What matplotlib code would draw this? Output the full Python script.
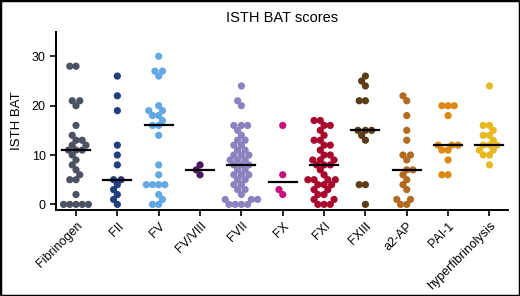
import numpy as np
import matplotlib
matplotlib.use('Agg')
import matplotlib.pyplot as plt
from matplotlib.patches import Rectangle

plt.rcParams['font.family'] = ['Liberation Sans', 'DejaVu Sans']

#groups and their ISTH BAT scores
categories = ['Fibrinogen', 'FII', 'FV', 'FV/VIII', 'FVII', 'FX', 'FXI', 'FXIII',
              'a2-AP', 'PAI-1', 'hyperfibrinolysis']
fibrinogen = [0, 0, 0, 0, 0, 2, 5, 5, 6, 7, 8, 9, 10, 11, 11, 11, 12, 12, 13, 13, 14,
              16, 20, 21, 21, 28, 28]
f2 = [26, 22, 19, 12, 10, 8, 5, 5, 4, 3, 2, 1, 0]
f5 = [30, 27, 27, 26, 20, 19, 19, 18, 18, 17, 16, 16, 14, 8, 6, 4, 4, 4, 4, 2, 1, 0, 0]
f5_8 = [8, 7, 6]
f7 = [24, 21, 20, 16, 16, 16, 15, 14, 13, 13, 12, 12, 11, 11, 10, 10, 10, 9, 9, 9, 8, 8,
      8, 7, 7, 6, 6, 6, 5, 5, 4, 4, 3, 3, 2, 1, 1, 1, 0, 0, 0, 0]
f10 = [16, 6, 3, 2]
f11 = [17, 17, 16, 16, 15, 14, 13, 13, 12, 12, 11, 10, 10, 9, 9, 9, 8, 8, 8, 7, 6, 5, 5,
       5, 5, 4, 4, 4, 3, 3, 2, 2, 1, 1, 0, 0, 0]
f13 = [26, 25, 24, 21, 21, 15, 15, 15, 14, 13, 4, 4, 0]
a2ap = [22, 21, 18, 15, 13, 10, 10, 9, 7, 7, 6, 5, 4, 3, 1, 1, 0, 0]
pai1 = [20, 20, 20, 18, 12, 12, 12, 11, 11, 9, 6, 6]
hyperfib = [24, 16, 16, 15, 14, 14, 13, 12, 12, 12, 11, 11, 10, 10, 8]
colors = ['#4b5263', '#223f7c', '#62a8e3', '#4b1a5e', '#8c82c0', '#c8107c', '#a8082c',
          '#5c3c17', '#b26c22', '#dc8a12', '#e8ba22']

groups = [fibrinogen, f2, f5, f5_8, f7, f10, f11, f13, a2ap, pai1, hyperfib]


def swarm(values, xpx, ypx, d):
    #simple beeswarm in pixel space, returns x offsets in data units
    order = np.argsort(values)
    placed = []
    offs = np.zeros(len(values))
    for i in order:
        y = values[i] * ypx
        cands = [0.0]
        for (px, py) in placed:
            dy = abs(py - y)
            if dy < d:
                dx = np.sqrt(d * d - dy * dy)
                cands += [px + dx, px - dx]
        cands.sort(key=lambda c: (abs(c), c))
        for c in cands:
            if all((c - px) ** 2 + (y - py) ** 2 >= d * d - 1e-6 for (px, py) in placed):
                break
        placed.append((c, y))
        offs[i] = c / xpx
    return offs


fig = plt.figure(figsize=(5.2, 2.96), dpi=100)
ax = fig.add_axes([0.108, 0.292, 0.869, 0.601])
ax.set_xlim(-0.48, 10.45)
ax.set_ylim(-1.05, 35)

xpx = 41.3
ypx = 4.93
for i, vals in enumerate(groups):
    vals = np.array(vals, dtype=float)
    offs = swarm(vals, xpx, ypx, 6.2)
    ax.scatter(i + offs, vals, s=27, color=colors[i], edgecolors='none', zorder=3)
    med = np.median(vals)
    ax.plot([i - 0.34, i + 0.34], [med, med], color='black', lw=1.6, zorder=4)

ax.spines['top'].set_visible(False)
ax.spines['right'].set_visible(False)
ax.spines['left'].set_linewidth(1.4)
ax.spines['bottom'].set_linewidth(1.4)
ax.set_yticks([0, 10, 20, 30])
ax.set_xticks(range(len(categories)))
ax.set_xticklabels(categories, rotation=45, ha='right', rotation_mode='anchor', fontsize=9)
ax.tick_params(axis='y', labelsize=9, length=4, width=1.2)
ax.tick_params(axis='x', length=4, width=1.2)
ax.set_ylabel('ISTH BAT', fontsize=9.5, family=['Liberation Sans Narrow', 'Liberation Sans'],
              labelpad=6)
ax.set_title('ISTH BAT scores', fontsize=10.5, pad=7)

#black frame around the whole picture
fig.patches.append(Rectangle((0, 0), 1, 1, transform=fig.transFigure, fill=False,
                             edgecolor='black', lw=2.5))

fig.savefig('out.png', dpi=100)
